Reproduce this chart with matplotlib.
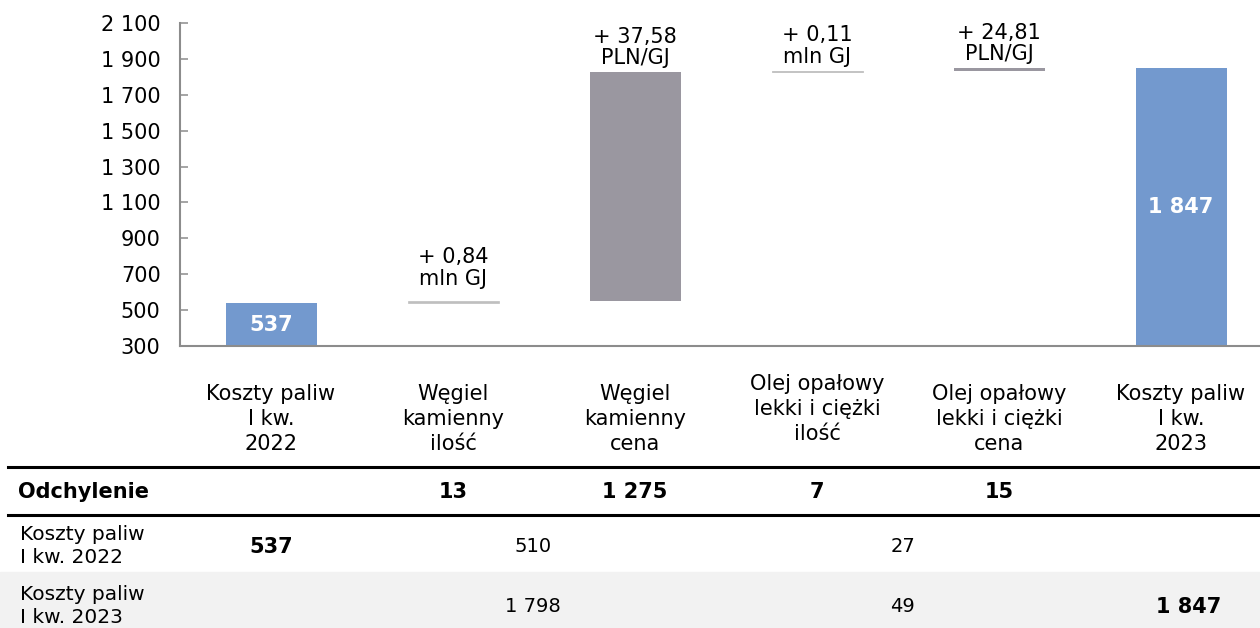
import matplotlib
matplotlib.use("Agg")
import matplotlib.pyplot as plt
from matplotlib.transforms import blended_transform_factory
import numpy as np

plt.rcParams["font.family"] = ["DejaVu Sans"]

# ---- data -------------------------------------------------------------
categories = [
    "Koszty paliw\nI kw.\n2022",
    "Węgiel\nkamienny\nilość",
    "Węgiel\nkamienny\ncena",
    "Olej opałowy\nlekki i ciężki\nilość",
    "Olej opałowy\nlekki i ciężki\ncena",
    "Koszty paliw\nI kw.\n2023",
]
values = [537, 13, 1275, 7, 15, 1847]
is_total = [True, False, False, False, False, True]
driver_labels = ["", "+ 0,84\nmln GJ", "+ 37,58\nPLN/GJ", "+ 0,11\nmln GJ", "+ 24,81\nPLN/GJ", ""]

row_2022_label = "Koszty paliw\nI kw. 2022"
row_2023_label = "Koszty paliw\nI kw. 2023"
coal_2022, oil_2022 = 510, 27
coal_2023, oil_2023 = 1798, 49

y_ticks = [300, 500, 700, 900, 1100, 1300, 1500, 1700, 1900, 2100]

# ---- styling ----------------------------------------------------------
BLUE = "#7399CE"
PRICE_GREY = "#9A97A0"
QTY_GREY = "#BFBFBF"
AXIS_GREY = "#8C8C8C"
bar_colors = [BLUE, QTY_GREY, PRICE_GREY, QTY_GREY, PRICE_GREY, BLUE]
bar_edges = [0, 0.5, 0, 0.6, 0, 0]           # thicken the thin quantity strips
label_offsets = [0, 9, 3, 3, 3, 0]           # points above each bar top
category_drop = [27, 27, 27, 20, 27, 27]     # points below the x axis


def fmt(v):
    return f"{v:,.0f}".replace(",", " ")


W, H = 1260, 628
fig = plt.figure(figsize=(W / 100, H / 100), dpi=100)
ax = fig.add_axes([180 / W, (H - 346) / H, 1092 / W, 323 / H])

x = np.arange(len(values))
bottoms, heights = [], []
running = 0
for v, tot in zip(values, is_total):
    if tot:
        bottoms.append(300)
        heights.append(v - 300)
        running = v
    else:
        bottoms.append(running)
        heights.append(v)
        running += v

ax.bar(x, heights, bottom=bottoms, width=0.5, color=bar_colors,
       edgecolor=bar_colors, linewidth=bar_edges, zorder=2)

ax.set_xlim(-0.5, len(values) - 0.5)
ax.set_ylim(300, 2100)
ax.set_yticks(y_ticks)
ax.set_yticklabels([fmt(t) for t in y_ticks], fontsize=15)
ax.tick_params(axis="y", direction="in", length=6, width=1.1,
               color=AXIS_GREY, pad=14)
ax.set_xticks([])

for s in ("top", "right"):
    ax.spines[s].set_visible(False)
for s in ("left", "bottom"):
    ax.spines[s].set_color(AXIS_GREY)
    ax.spines[s].set_linewidth(1.5)

# category names under the axis
for xi, name, drop in zip(x, categories, category_drop):
    ax.annotate(name, (xi, 300), xytext=(0, -drop), textcoords="offset points",
                ha="center", va="top", fontsize=15, linespacing=1.32,
                annotation_clip=False)

# values inside the total bars, driver descriptions above the change bars
for xi, b, h, tot, txt, off in zip(x, bottoms, heights, is_total,
                                   driver_labels, label_offsets):
    if tot:
        ax.text(xi, b + h / 2, fmt(b + h), ha="center", va="center",
                color="white", fontsize=15, fontweight="bold", zorder=3)
    else:
        ax.annotate(txt, (xi, b + h), xytext=(0, off),
                    textcoords="offset points", ha="center", va="bottom",
                    fontsize=15, linespacing=1.1)

# ---- table below the chart --------------------------------------------
tr = blended_transform_factory(ax.transData, fig.transFigure)


def fy(py):
    return 1 - py / H


fig.add_artist(plt.Rectangle((0, 0), 1, fy(572), transform=fig.transFigure,
                             color="#F2F2F2", zorder=0))
for py in (467, 515):
    fig.add_artist(plt.Line2D([8 / W, 1], [fy(py), fy(py)],
                              transform=fig.transFigure, color="black", lw=2.2))

fig.text(18 / W, fy(492), "Odchylenie", fontsize=15, fontweight="bold",
         va="center", ha="left")
for xi, v, tot in zip(x, values, is_total):
    if not tot:
        fig.text(xi, fy(492), fmt(v), transform=tr, fontsize=15,
                 fontweight="bold", ha="center", va="center")

fig.text(20 / W, fy(546), row_2022_label, fontsize=14.5, va="center",
         ha="left", linespacing=1.28)
fig.text(x[0], fy(547), fmt(values[0]), transform=tr, fontsize=15,
         fontweight="bold", ha="center", va="center")
fig.text((x[1] + x[2]) / 2 - 0.06, fy(547), fmt(coal_2022), transform=tr,
         fontsize=14, ha="center", va="center")
fig.text((x[3] + x[4]) / 2 - 0.03, fy(547), fmt(oil_2022), transform=tr,
         fontsize=14, ha="center", va="center")

fig.text(20 / W, fy(606), row_2023_label, fontsize=14.5, va="center",
         ha="left", linespacing=1.28)
fig.text((x[1] + x[2]) / 2 - 0.06, fy(607), fmt(coal_2023), transform=tr,
         fontsize=14, ha="center", va="center")
fig.text((x[3] + x[4]) / 2 - 0.03, fy(607), fmt(oil_2023), transform=tr,
         fontsize=14, ha="center", va="center")
fig.text(x[5] + 0.04, fy(607), fmt(values[5]), transform=tr, fontsize=15,
         fontweight="bold", ha="center", va="center")

fig.savefig("out.png", dpi=100)
